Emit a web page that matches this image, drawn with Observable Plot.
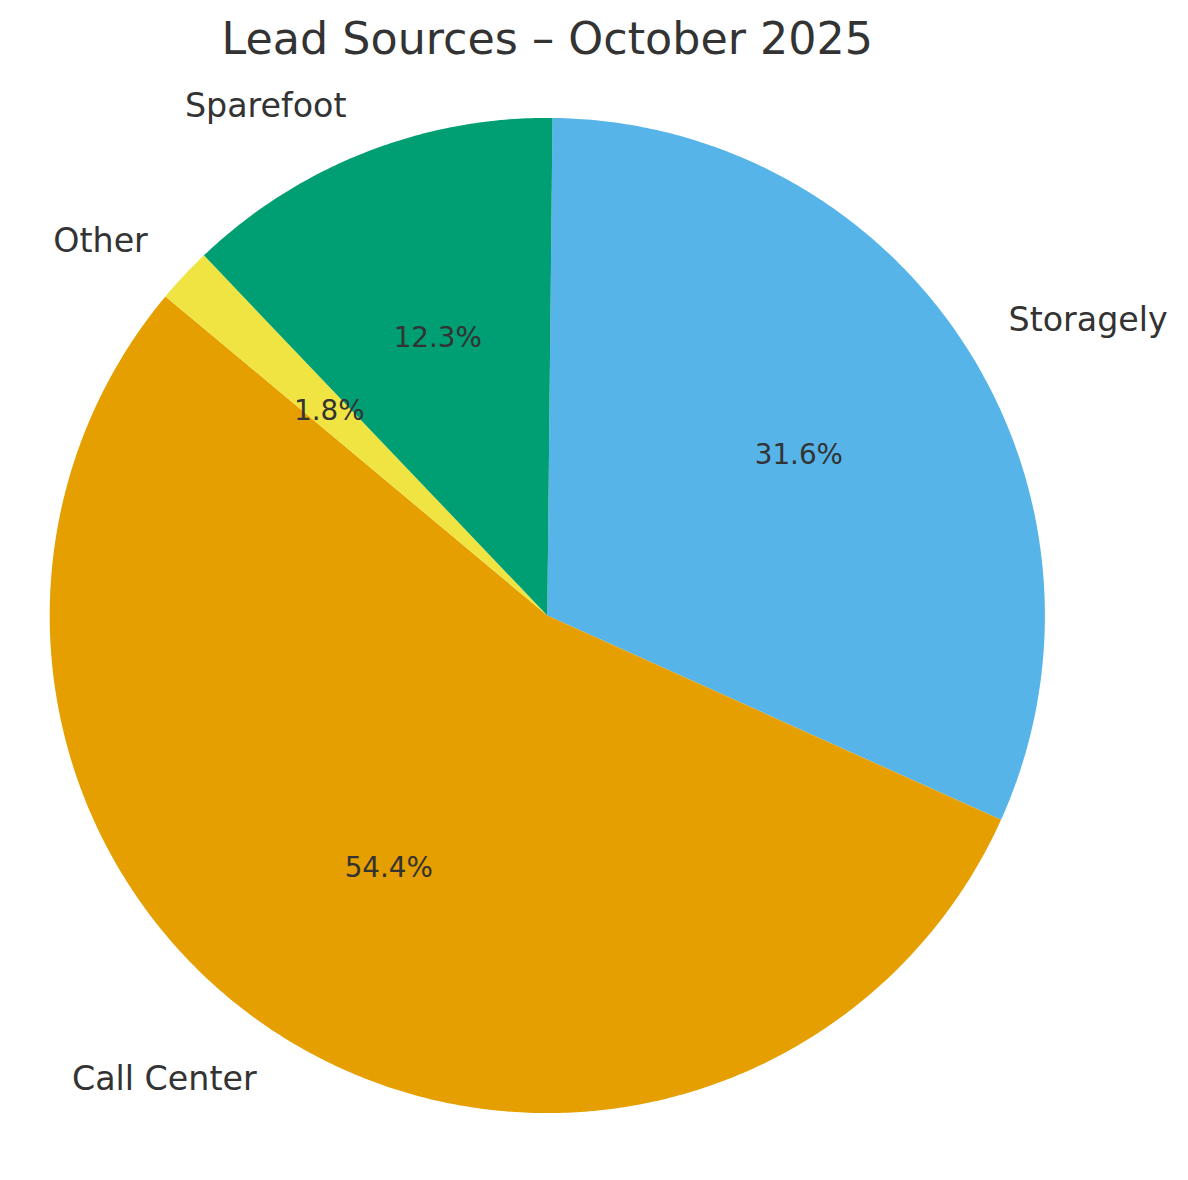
<!DOCTYPE html>
<html>
<head>
<meta charset="utf-8">
<script src="https://cdn.jsdelivr.net/npm/d3@7"></script>
<script src="https://cdn.jsdelivr.net/npm/@observablehq/plot@0.6"></script>
<style>
  html, body { margin: 0; padding: 0; background: #fff; }
</style>
</head>
<body>
<div id="chart"></div>
<script>
const title = "Lead Sources – October 2025";
const categories = ["Storagely", "Call Center", "Other", "Sparefoot"];
const shares = [31.6, 54.4, 1.8, 12.3];
const colors = ["#56B4E9", "#E69F00", "#F0E442", "#009E73"];

const startAngle = 89.4; // degrees, clockwise
const total = d3.sum(shares);
let acc = 0;
const slices = categories.map((name, i) => {
  const a0 = startAngle - acc / total * 360;
  acc += shares[i];
  const a1 = startAngle - acc / total * 360;
  return {name, value: shares[i], a0, a1, mid: (a0 + a1) / 2};
});

const rad = d => d * Math.PI / 180;
const pts = [];
for (const s of slices) {
  pts.push({name: s.name, x: 0, y: 0});
  const n = Math.max(2, Math.ceil(Math.abs(s.a0 - s.a1) / 0.5));
  for (let k = 0; k <= n; k++) {
    const a = s.a0 + (s.a1 - s.a0) * k / n;
    pts.push({name: s.name, x: Math.cos(rad(a)), y: Math.sin(rad(a))});
  }
}

const labels = slices.map(s => ({
  name: s.name,
  x: 1.1 * Math.cos(rad(s.mid)),
  y: 1.1 * Math.sin(rad(s.mid)),
  anchor: Math.cos(rad(s.mid)) >= 0 ? "start" : "end"
}));
const pcts = slices.map(s => ({
  text: s.value.toFixed(1) + "%",
  x: 0.6 * Math.cos(rad(s.mid)),
  y: 0.6 * Math.sin(rad(s.mid))
}));

const chart = Plot.plot({
  width: 1188,
  height: 1180,
  margin: 0,
  style: {fontFamily: "DejaVu Sans", background: "#fff"},
  x: {domain: [-1, 1], range: [49.2, 1044.4], axis: null},
  y: {domain: [-1, 1], range: [1112.6, 117.4], axis: null},
  color: {domain: categories, range: colors},
  marks: [
    Plot.line(pts, {x: "x", y: "y", z: "name", fill: "name", stroke: "none", curve: "linear"}),
    Plot.text(labels.filter(d => d.anchor === "start"), {x: "x", y: "y", text: "name", textAnchor: "start", fontSize: 33.3, fill: "#333333"}),
    Plot.text(labels.filter(d => d.anchor === "end"), {x: "x", y: "y", text: "name", textAnchor: "end", fontSize: 33.3, fill: "#333333"}),
    Plot.text(pcts, {x: "x", y: "y", text: "text", fontSize: 27.8, fill: "#333333"}),
    Plot.text([title], {x: () => 0, frameAnchor: "top", dy: 21.5, text: d => d, fontSize: 44.4, fill: "#333333"})
  ]
});
document.getElementById("chart").appendChild(chart);
</script>
</body>
</html>
